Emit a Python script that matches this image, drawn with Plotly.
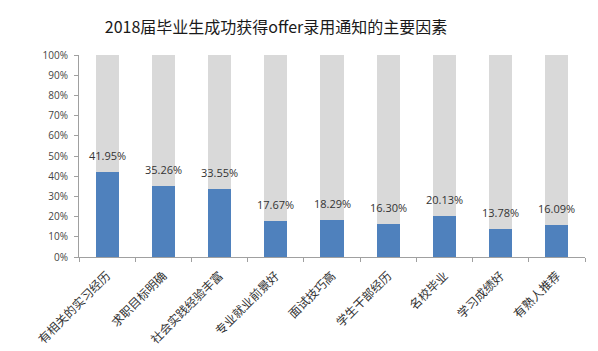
import plotly.graph_objects as go

categories = ["有相关的实习经历", "求职目标明确", "社会实践经验丰富", "专业就业前景好",
              "面试技巧高", "学生干部经历", "名校毕业", "学习成绩好", "有熟人推荐"]
values = [41.95, 35.26, 33.55, 17.67, 18.29, 16.30, 20.13, 13.78, 16.09]
labels = ["41.95%", "35.26%", "33.55%", "17.67%", "18.29%", "16.30%", "20.13%", "13.78%", "16.09%"]

share = [v / 100 for v in values]
rest = [1 - s for s in share]

CJK = "Noto Sans CJK SC"

fig = go.Figure()
fig.add_trace(go.Bar(x=categories, y=share, marker=dict(color="#4F81BD", line=dict(width=0)),
                     width=0.41, hoverinfo="skip"))
fig.add_trace(go.Bar(x=categories, y=rest, marker=dict(color="#D9D9D9", line=dict(width=0)),
                     width=0.41, hoverinfo="skip"))

for c, s, t in zip(categories, share, labels):
    fig.add_annotation(x=c, y=s, text=t, showarrow=False, xref="x", yref="y",
                       yanchor="bottom", yshift=7,
                       font=dict(family="Open Sans", size=11, color="#333333"))

fig.update_layout(
    width=598, height=351,
    barmode="stack",
    showlegend=False,
    paper_bgcolor="white", plot_bgcolor="white",
    margin=dict(l=79, r=13, t=55, b=94, autoexpand=False),
    title=dict(text="2018届毕业生成功获得offer录用通知的主要因素",
               xref="container", x=276 / 598, xanchor="center",
               yref="container", y=1 - 27 / 351, yanchor="middle",
               font=dict(family=CJK, size=16, color="#1a1a1a")),
    bargap=0.59,
)
fig.update_xaxes(
    type="category", tickson="boundaries", ticks="outside", ticklen=4,
    tickcolor="#A0A0A0", showline=True, linecolor="#A0A0A0", linewidth=1,
    showgrid=False, tickangle=-45, ticklabelstandoff=6, automargin=False,
    tickfont=dict(family=CJK, size=12, color="#333333"),
)
fig.update_yaxes(
    range=[0, 1], tickvals=[i / 10 for i in range(11)], tickformat=".0%",
    ticks="outside", ticklen=4, tickcolor="#A0A0A0", ticklabelstandoff=4,
    showline=True, linecolor="#A0A0A0", linewidth=1, showgrid=False, zeroline=False,
    automargin=False,
    tickfont=dict(family="Open Sans", size=10, color="#444444"),
)

fig.write_html("out.html")
